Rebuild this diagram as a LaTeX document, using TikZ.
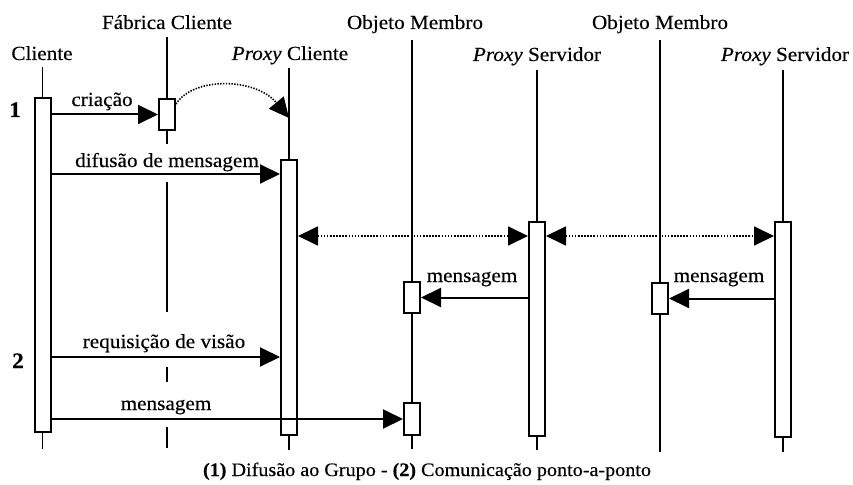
\documentclass[tikz,border=0pt]{standalone}
\usepackage{fontspec}
\setmainfont{Liberation Serif}[FakeStretch=1.06, FakeBold=0.35]
\usetikzlibrary{arrows.meta}

\begin{document}
\begin{tikzpicture}[x=1pt,y=-1pt,
  txt/.style={font=\fontsize{20}{24}\selectfont, inner sep=0pt, anchor=base},
  num/.style={font=\fontsize{22}{26}\selectfont\bfseries, inner sep=0pt, anchor=base},
  life/.style={line width=1.8pt},
  act/.style={draw, fill=white, line width=2pt, minimum width=16pt, inner sep=0pt},
  msg/.style={line width=2pt, -{Triangle[length=20pt,width=19pt]}},
  grp/.style={line width=1.8pt, dash pattern=on 1.6pt off 1.5pt,
              {Triangle[length=20pt,width=19pt]}-{Triangle[length=20pt,width=19pt]}},
  creat/.style={line width=1.6pt, dash pattern=on 1.4pt off 1.4pt,
              -{Triangle[length=20pt,width=19pt]}}]

\useasboundingbox (0,0) rectangle (853,484);

% object headers
\node[txt] (hCli)  at (42,60)  {Cliente};
\node[txt] (hFab)  at (167,29) {Fábrica Cliente};
\node[txt] (hPc)   at (290,60) {\textit{Proxy} Cliente};
\node[txt] (hOm1)  at (415,29) {Objeto Membro};
\node[txt] (hPs1)  at (537,61) {\textit{Proxy} Servidor};
\node[txt] (hOm2)  at (660,29) {Objeto Membro};
\node[txt] (hPs2)  at (785,61) {\textit{Proxy} Servidor};

% lifelines
\coordinate (cliTop) at (42.5,67);  \coordinate (cliEnd) at (42.5,449);
\coordinate (pcTop)  at (289,68);   \coordinate (pcEnd)  at (289,450);
\coordinate (om1Top) at (412,40);   \coordinate (om1End) at (412,449);
\coordinate (ps1Top) at (537,70);   \coordinate (ps1End) at (537,450);
\coordinate (om2Top) at (660,40);   \coordinate (om2End) at (660,452);
\coordinate (ps2Top) at (783,70);   \coordinate (ps2End) at (783,452);
\draw[life] (cliTop) -- (cliEnd);
\draw[life] (pcTop)  -- (pcEnd);
\draw[life] (om1Top) -- (om1End);
\draw[life] (ps1Top) -- (ps1End);
\draw[life] (om2Top) -- (om2End);
\draw[life] (ps2Top) -- (ps2End);
% the factory lifeline is broken where messages pass over it
\draw[life] (167,37) -- (167,99)
            (167,130) -- (167,144)
            (167,182) -- (167,312)
            (167,367) -- (167,382)
            (167,427) -- (167,448);

% activation boxes
\node[act, minimum height=334pt] (cliBox) at (42.5,265)  {};
\node[act, minimum height=31pt]  (fabBox) at (167,114.5) {};
\node[act, minimum height=275pt] (pcBox)  at (289,297.5) {};
\node[act, minimum height=31pt]  (om1a)   at (412,297.5) {};
\node[act, minimum height=32pt]  (om1b)   at (412,419)   {};
\node[act, minimum height=214pt] (ps1Box) at (537,329)   {};
\node[act, minimum height=31pt]  (om2Box) at (660,298.5) {};
\node[act, minimum height=215pt] (ps2Box) at (783,329.5) {};

% phase markers
\node[num] (n1) at (15,117) {1};
\node[num] (n2) at (18,368) {2};

% message levels
\coordinate (yDif) at (0,174);
\coordinate (yGrp) at (0,236);
\coordinate (yReq) at (0,357);

% creation of the client proxy
\draw[msg] (cliBox.east |- fabBox) -- (fabBox.west);
\node[txt] (lCria) at (102,106) {criação};
\coordinate (arcS) at (176,104);
\coordinate (arcE) at (289,118);
\draw[creat] (arcS) .. controls (194,76) and (256,78) .. (arcE);

% group broadcast
\draw[msg] (cliBox.east |- yDif) -- (pcBox.west |- yDif);
\node[txt] (lDif) at (167,167) {difusão de mensagem};
\draw[grp] (pcBox.east |- yGrp) -- (ps1Box.west |- yGrp);
\draw[grp] (ps1Box.east |- yGrp) -- (ps2Box.west |- yGrp);
\draw[msg] (ps1Box.west |- om1a) -- (om1a.east);
\node[txt] (lMsg1) at (472,282) {mensagem};
\draw[msg] (ps2Box.west |- om2Box) -- (om2Box.east);
\node[txt] (lMsg2) at (719,282) {mensagem};

% point-to-point
\draw[msg] (cliBox.east |- yReq) -- (pcBox.west |- yReq);
\node[txt] (lReq) at (164,348) {requisição de visão};
\draw[msg] (cliBox.east |- om1b) -- (om1b.west);
\node[txt] (lMsg3) at (166,410) {mensagem};

% caption
\node[txt, font=\fontsize{19}{23}\selectfont] (cap) at (427,476)
  {\textbf{(1)} Difusão ao Grupo - \textbf{(2)} Comunicação ponto-a-ponto};
\end{tikzpicture}
\end{document}
